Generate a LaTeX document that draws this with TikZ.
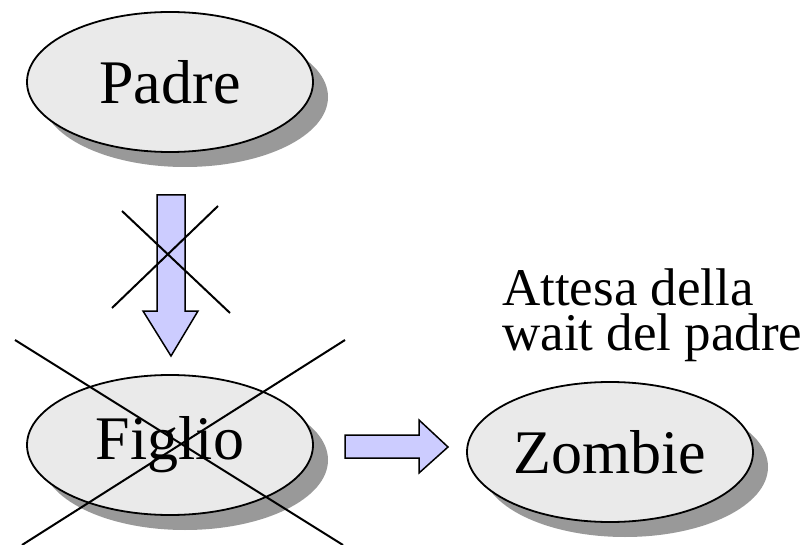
\documentclass[tikz,border=0pt]{standalone}
\usepackage{fontspec}
\setmainfont{Liberation Serif}
\usetikzlibrary{shapes.geometric,shadows}
\definecolor{procfill}{HTML}{EAEAEA}
\definecolor{procshadow}{HTML}{999999}
\definecolor{arrowfill}{HTML}{CCCCFF}
\begin{document}
\begin{tikzpicture}[
  x=1pt, y=-1pt,
  proc/.style={ellipse, draw, line width=1.8pt, fill=procfill, minimum width=286pt, minimum height=140pt,
    font=\fontsize{62}{70}\selectfont,
    drop shadow={shadow xshift=15pt, shadow yshift=-15pt, fill=procshadow, opacity=1}},
  blockarrow/.style={draw, line width=1.5pt, fill=arrowfill, line join=miter},
  cross/.style={line width=2pt},
  note/.style={align=left, inner sep=0pt, font=\fontsize{53}{45}\selectfont}
]
\useasboundingbox (0,0) rectangle (811,545);

\node[proc] (padre) at (170,82) {Padre};
\node[proc] (figlio) at (170,445) {Figlio};
\node[proc] (zombie) at (610,452) {Zombie};
\node[note, anchor=north west] (attesa) at (502,269) {Attesa della\\wait del padre};

% frecce a blocco
\draw[blockarrow] (157,195) -- (185,195) -- (185,311) -- (198,311) -- (171,356) -- (143,311) -- (157,311) -- cycle;
\draw[blockarrow] (345,435) -- (419,435) -- (419,420) -- (448,447) -- (419,473) -- (419,458) -- (345,458) -- cycle;

% croci
\draw[cross] (122,211) -- (230,313);
\draw[cross] (112,308) -- (218,206);
\draw[cross] (15,340) -- (343,545);
\draw[cross] (22,545) -- (345,340);
\end{tikzpicture}
\end{document}
